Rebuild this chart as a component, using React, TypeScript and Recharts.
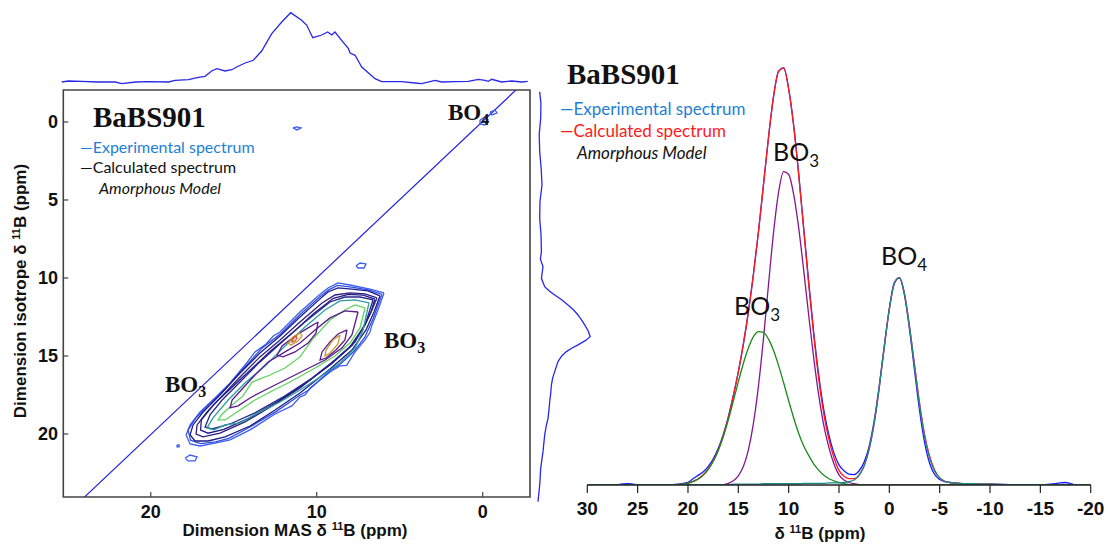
import React from 'react';
import { LineChart, Line, XAxis, YAxis, ReferenceArea } from 'recharts';

const W = 1110;
const H = 547;

const FONT_SANS = "Lato, 'Open Sans', sans-serif";
const FONT_SERIF = "'Liberation Serif', 'Times New Roman', serif";
const FONT_ARIAL = "'Liberation Sans', Arial, sans-serif";

// ---- left: 2D MQMAS map, points are [MAS ppm, isotropic ppm]
const diagonal: [number, number][] = [[24.0, 24.05], [-2.0, -2.05]];

const contourOuter: [number, number][] = [
  [5.95, 10.96], [6.79, 10.71], [8.0, 10.45], [8.72, 10.32], [9.32, 10.64], [9.92, 11.15], [11.01, 12.18],
  [12.21, 13.46], [12.6, 13.7], [13.11, 14.29], [13.72, 14.74], [14.32, 15.58], [15.22, 16.73], [16.13, 17.69],
  [17.03, 18.59], [17.63, 19.42], [17.87, 20.06], [17.63, 20.64], [17.03, 20.77], [16.13, 20.58], [15.22, 20.38],
  [14.02, 19.74], [12.51, 18.72], [11.5, 18.2], [11.01, 17.63], [10.7, 17.5], [10.4, 17.05], [9.2, 16.03],
  [8.6, 15.64], [8.2, 15.6], [7.69, 14.74], [7.09, 13.97], [6.8, 13.5], [6.67, 13.01], [6.31, 12.05], [5.95, 10.96],
];
const contourOuter2: [number, number][] = [
  [6.07, 11.05], [6.9, 10.76], [7.9, 10.58], [8.76, 10.48], [9.3, 10.78], [9.86, 11.25], [11.0, 12.34],
  [12.2, 13.6], [13.3, 14.5], [14.4, 15.8], [15.5, 17.1], [16.5, 18.1], [17.3, 19.0], [17.75, 19.75],
  [17.6, 20.4], [17.0, 20.62], [16.1, 20.5], [15.3, 20.28], [14.1, 19.6], [12.5, 18.6], [11.0, 17.5],
  [10.5, 17.2], [9.2, 15.95], [8.5, 15.45], [7.75, 14.7], [7.1, 13.8], [6.6, 12.6], [6.07, 11.05],
];
const contourNavy: [number, number][] = [
  [6.19, 11.15], [6.91, 10.83], [7.88, 10.71], [8.72, 10.64], [9.32, 10.9], [9.8, 11.34], [11.01, 12.5],
  [12.21, 13.72], [13.42, 14.81], [14.62, 16.09], [15.83, 17.5], [16.85, 18.59], [17.45, 19.42], [17.63, 20.06],
  [17.33, 20.45], [16.55, 20.45], [15.52, 20.19], [14.02, 19.49], [12.51, 18.46], [11.01, 17.37], [9.2, 15.83],
  [7.88, 14.62], [7.03, 13.33], [6.55, 12.18], [6.19, 11.15],
];
const contourIndigo: [number, number][] = [
  [6.37, 11.28], [7.09, 11.02], [8.0, 10.96], [8.9, 11.09], [9.68, 11.6], [11.01, 12.82], [12.21, 13.97],
  [13.42, 15.06], [14.62, 16.35], [15.7, 17.56], [16.61, 18.59], [17.21, 19.42], [17.27, 20.0], [16.85, 20.19],
  [15.83, 19.94], [14.32, 19.23], [12.69, 18.2], [11.01, 17.05], [9.32, 15.64], [8.0, 14.42], [7.21, 13.2],
  [6.73, 12.18], [6.37, 11.28],
];
const contourNavy2: [number, number][] = [
  [6.5, 11.35], [7.2, 11.1], [8.1, 11.05], [9.0, 11.3], [10.2, 12.3], [11.5, 13.55], [12.8, 14.7],
  [14.0, 15.9], [15.2, 17.1], [16.2, 18.1], [16.95, 19.1], [17.0, 19.75], [16.55, 19.95], [15.6, 19.7],
  [14.1, 19.0], [12.4, 17.95], [10.8, 16.85], [9.1, 15.5], [7.85, 14.3], [7.1, 13.05], [6.7, 12.1], [6.5, 11.35],
];
const contourBlue: [number, number][] = [
  [6.61, 11.41], [7.39, 11.22], [8.3, 11.22], [9.2, 11.54], [10.71, 12.82], [12.09, 14.1], [13.42, 15.38],
  [14.62, 16.67], [15.7, 17.82], [16.43, 18.78], [16.73, 19.55], [16.31, 19.68], [15.22, 19.36], [13.72, 18.65],
  [11.91, 17.56], [10.28, 16.41], [8.9, 15.26], [7.69, 14.1], [7.03, 12.82], [6.61, 11.41],
];
const contourTeal: [number, number][] = [
  [6.85, 11.6], [7.69, 11.41], [8.6, 11.47], [9.5, 12.05], [10.71, 13.14], [11.91, 14.36], [13.11, 15.64],
  [14.32, 16.73], [15.34, 17.82], [16.25, 18.97], [16.61, 19.61], [16.19, 19.74], [15.52, 19.42], [14.62, 19.29],
  [13.54, 18.65], [12.21, 17.95], [11.01, 17.18], [9.8, 16.35], [8.6, 15.45], [7.69, 14.49], [7.21, 13.33], [6.85, 11.6],
];
const contourGreen: [number, number][] = [
  [7.09, 11.92], [7.69, 11.73], [8.3, 12.05], [9.2, 12.69], [10.28, 13.97], [11.01, 15.06], [11.91, 15.77],
  [12.81, 16.22], [13.9, 16.67], [14.44, 17.56], [15.1, 18.14], [15.7, 18.72], [15.95, 19.1], [15.52, 19.1],
  [14.62, 18.46], [13.72, 17.82], [12.81, 17.31], [11.61, 16.67], [10.1, 15.77], [8.9, 15.0], [8.0, 14.17],
  [7.39, 13.2], [7.09, 11.92],
];
const contourPurple: [number, number][] = [
  [7.51, 12.18], [8.3, 12.11], [9.2, 12.56], [10.1, 13.33], [11.01, 14.17], [11.91, 14.74], [12.93, 15.38],
  [13.72, 16.22], [14.44, 17.05], [15.1, 17.82], [15.22, 18.33], [14.74, 18.2], [14.02, 17.69], [13.11, 17.18],
  [11.91, 16.54], [10.71, 15.9], [9.5, 15.26], [8.48, 14.49], [7.88, 13.65], [7.51, 12.18],
];
const lobeLeft: [number, number][] = [
  [9.92, 12.82], [10.52, 13.2], [11.31, 13.72], [12.09, 14.36], [12.39, 14.94], [12.03, 15.06], [11.31, 14.74],
  [10.52, 14.17], [10.04, 13.52], [9.92, 12.82],
];
const lobeRight: [number, number][] = [
  [8.18, 13.33], [8.72, 13.59], [9.2, 14.1], [9.68, 14.74], [9.8, 15.26], [9.44, 15.13], [8.84, 14.62],
  [8.3, 13.97], [8.18, 13.33],
];
const coreRight: [number, number][] = [
  [8.6, 13.65], [9.02, 13.97], [9.44, 14.62], [9.5, 15.0], [9.2, 14.81], [8.72, 14.23], [8.6, 13.65],
];
const coreLeft: [number, number][] = [
  [11.01, 13.52], [11.43, 13.78], [11.73, 14.17], [11.55, 14.29], [11.13, 14.04], [10.89, 13.72], [11.01, 13.52],
];
const corePeak: [number, number][] = [
  [11.25, 13.72], [11.43, 13.91], [11.49, 14.1], [11.31, 14.04], [11.19, 13.85], [11.25, 13.72],
];
const islandTop: [number, number][] = [[11.43, 0.38], [11.19, 0.32], [10.95, 0.38], [11.19, 0.51], [11.43, 0.38]];
const islandMid: [number, number][] = [[7.63, 9.22], [7.39, 9.04], [7.03, 9.1], [7.15, 9.36], [7.51, 9.36], [7.63, 9.22]];
const islandBo4a: [number, number][] = [[0.16, -0.13], [-0.14, -0.32], [-0.32, -0.13], [-0.14, 0.19], [0.16, 0.13], [0.16, -0.13]];
const islandBo4b: [number, number][] = [[-0.44, -0.64], [-0.74, -0.77], [-0.86, -0.58], [-0.56, -0.45], [-0.44, -0.64]];
const islandLow: [number, number][] = [[17.93, 21.54], [17.63, 21.35], [17.21, 21.47], [17.33, 21.73], [17.75, 21.73], [17.93, 21.54]];
const islandDot: [number, number][] = [[18.42, 20.7], [18.29, 20.7], [18.29, 20.83], [18.42, 20.83], [18.42, 20.7]];

const contours = [
  contourOuter, contourOuter2, contourNavy, contourIndigo, contourNavy2, contourBlue, contourTeal, contourGreen,
  contourPurple, lobeLeft, lobeRight, coreRight, coreLeft, corePeak,
  islandTop, islandMid, islandBo4a, islandBo4b, islandLow, islandDot,
];
const contourColors = [
  '#3d5cf5', '#2f4fe0', '#1c1c8a', '#2c1f7d', '#221a86', '#26268f', '#2b9e9e', '#5fd35f',
  '#5b1a8c', '#5b1a8c', '#5b1a8c', '#c89a30', '#c89a30', '#e0502a',
  '#3d5cf5', '#3d5cf5', '#3d5cf5', '#3d5cf5', '#3d5cf5', '#3d5cf5',
];

// ---- projections
const topShift = [
  25.36, 24.96, 24.16, 23.2, 22.15, 21.75, 20.9, 20.14, 18.94, 18.54, 17.73, 17.13, 16.73, 16.33, 16.03, 15.52,
  15.12, 14.82, 14.32, 13.82, 13.32, 12.71, 12.11, 11.57, 10.91, 10.6, 10.24, 9.7, 9.34, 9.1, 8.9, 8.5, 8.09,
  7.99, 7.69, 7.29, 6.49, 6.09, 4.88, 4.08, 3.68, 2.87, 2.47, 1.67, 0.87, 0.26, -0.14, -0.34, -0.54, -1.14,
  -1.75, -2.35, -2.71,
];
const topIntensity = [
  0, 1.0, 0.7, 0, 0, -1.7, 0, 0.3, 0, 1.7, 2.3, 4.7, 5.7, 11, 13.3, 11,
  12.3, 15, 19, 21.7, 31, 48.3, 60, 69.3, 61.7, 56.7, 44.3, 47, 50, 47, 50, 41.7, 33.3,
  29, 26.7, 15, 3.3, 0.3, 0.3, -1, -1.7, 1.7, 0, 0.3, 0.7, 2.7, 1.7, 0.7, 2.7, 0,
  1, 0, 0.7,
];
const sideShift = [
  -1.94, -1.2, -0.24, 0.8, 1.9, 3.0, 4.04, 5.1, 6.18, 7.2, 8.31, 8.8, 9.27, 10.02, 10.56, 10.8, 11.09, 11.4,
  11.73, 12.05, 12.37, 12.7, 13.01, 13.4, 13.76, 14.0, 14.29, 14.5, 14.72, 15.0, 15.36, 16.0, 16.4, 16.86,
  17.4, 17.93, 18.5, 19.0, 19.5, 20.06, 21.13, 22.2, 23.27, 24.34,
];
const sideIntensity = [
  0, 1.2, 1, -0.5, 0, 1.5, 2.3, 0.3, 0, 1.3, 1.7, 0.7, 3.3, 1.7, 5, 9, 15, 22,
  28.3, 34, 38.3, 42, 45, 48.5, 50.5, 46, 38.3, 32, 26.7, 22, 18.3, 15, 13, 11.7,
  11, 10, 9.2, 8.3, 6.5, 5, 3.3, 1, 0, -1.7,
];

// ---- right: 1D MAS spectrum and its fit components
const spectrumPpm = [
  30, 28, 26, 24, 22, 21, 20, 19.5, 19, 18.5, 18, 17.5, 17, 16.5, 16, 15.5, 15, 14.5, 14, 13.5, 13,
  12.5, 12, 11.5, 11, 10.5, 10, 9.5, 9, 8.5, 8, 7.5, 7, 6.5, 6, 5.5, 5, 4.5, 4, 3.5, 3, 2.5, 2, 1.5, 1, 0.5,
  0, -0.5, -1, -1.5, -2, -2.5, -3, -3.5, -4, -4.5, -5, -5.5, -6, -7, -8, -10, -12, -14, -16, -17, -17.5,
  -18, -19, -19.5, -20,
];
const expSpectrum = [
  0.1, -0.2, 0.3, -0.3, 0, 0.2, 0.6, 1.5, 2.3, 3.1, 4.4, 6.2, 8.7, 12.0, 16.2, 21.3, 27.0, 33.6, 41.3, 50.3, 60.4,
  71.7, 83.0, 92.8, 98.8, 99.6, 94.6, 85.8, 74.2, 61.2, 48.3, 36.2, 26.0, 17.8, 11.9, 7.6, 4.8, 3.4, 2.6, 2.5, 3.4, 5.5, 9.3, 15.4, 23.7, 33.2,
  42.1, 48.3, 49.4, 45.4, 37.2, 27.4, 17.8, 10.2, 5.2, 2.5, 1.3, 0.8, 0.6, 0.4, 0.2, 0.2, 0.1, -0.1, 0.2, 0.5, 0.6,
  0.3, -0.3, -0.7, -0.1,
];
const calcSpectrum = [
  0, 0, 0, 0, 0, 0.1, 0.4, 0.9, 1.5, 2.4, 3.8, 5.7, 8.3, 11.7, 16.0, 21.2, 27.0, 33.6, 41.3, 50.3, 60.4,
  71.7, 83.0, 92.7, 98.7, 99.5, 94.5, 85.6, 73.9, 60.8, 47.7, 35.5, 25.1, 16.8, 10.9, 6.5, 3.5, 2.1, 1.5, 1.5, 2.4, 4.6, 8.6, 14.8, 23.3, 33.0,
  42.0, 48.1, 49.5, 45.7, 37.9, 28.8, 19.6, 12.1, 6.9, 3.6, 1.7, 0.9, 0.6, 0.4, 0.3, 0.2, 0.1, 0.1, 0.1, 0, 0,
  0, 0, 0, 0,
];
const bo3Narrow = [
  0, 0, 0, 0, 0, 0, 0, 0, 0, 0, 0, 0, 0, 0.1, 0.4, 1.0, 2.2, 4.4, 8.4, 14.7, 23.6,
  35.0, 47.9, 60.3, 69.9, 74.8, 74.1, 69.3, 61.3, 51.1, 40.3, 30.1, 21.2, 14.1, 8.9, 5.0, 2.4, 1.2, 0.6, 0.3, 0.1, 0, 0, 0, 0, 0,
  0, 0, 0, 0, 0, 0, 0, 0, 0, 0, 0, 0, 0, 0, 0, 0, 0, 0, 0, 0, 0,
  0, 0, 0, 0,
];
const bo3Wide = [
  0, 0, 0, 0, 0, 0.1, 0.4, 0.8, 1.4, 2.3, 3.7, 5.6, 8.2, 11.5, 15.5, 20.0, 24.6, 29.0, 32.7, 35.4, 36.6,
  36.4, 34.8, 32.1, 28.5, 24.4, 20.1, 16.0, 12.3, 9.3, 7.0, 5.0, 3.5, 2.3, 1.5, 1.0, 0.6, 0.3, 0.1, 0, 0, 0, 0, 0, 0, 0,
  0, 0, 0, 0, 0, 0, 0, 0, 0, 0, 0, 0, 0, 0, 0, 0, 0, 0, 0, 0, 0,
  0, 0, 0, 0,
];
const bo4Fit = [
  0, 0, 0, 0, 0, 0, 0, 0.1, 0.1, 0.1, 0.1, 0.1, 0.1, 0.1, 0.1, 0.2, 0.2, 0.2, 0.2, 0.2, 0.2,
  0.3, 0.3, 0.3, 0.3, 0.3, 0.3, 0.3, 0.3, 0.4, 0.4, 0.4, 0.4, 0.4, 0.5, 0.5, 0.5, 0.6, 0.8, 1.2, 2.3, 4.6, 8.6, 14.8, 23.3, 33.0,
  42.0, 48.1, 49.5, 45.7, 37.9, 28.3, 19.0, 11.5, 6.4, 3.3, 1.7, 0.9, 0.6, 0.4, 0.3, 0.2, 0.1, 0.1, 0.1, 0, 0,
  0, 0, 0, 0,
];
const spectrumTicks = [30, 25, 20, 15, 10, 5, 0, -5, -10, -15, -20];

const spectrumRows = spectrumPpm.map((ppm, k) => ({
  ppm,
  exp: expSpectrum[k],
  calc: calcSpectrum[k],
  narrow: bo3Narrow[k],
  wide: bo3Wide[k],
  bo4: bo4Fit[k],
}));
const topRows = topShift.map((m, k) => ({ m, v: topIntensity[k] }));
const sideRows = sideShift.map((i, k) => ({ i, v: sideIntensity[k] }));
const toPts = (arr: [number, number][]) => arr.map(([m, i]) => ({ m, i }));

const layer: React.CSSProperties = { position: 'absolute', left: 0, top: 0 };
const tickFont = { fill: '#111', fontWeight: 'bold', fontFamily: FONT_ARIAL };

const Sub = ({ children, size, dy }: { children: string; size: number; dy: number }) => (
  <tspan fontSize={size} dy={dy}>{children}</tspan>
);

export default function App() {
  return (
    <div style={{ position: 'absolute', left: 0, top: 0, width: W, height: H, background: '#fff' }}>
      {/* top projection */}
      <div style={layer}>
        <LineChart width={W} height={H} margin={{ top: 10, left: 55, right: 575, bottom: 462 }}>
          <XAxis type="number" dataKey="m" domain={[-3.15, 25.77]} reversed hide allowDataOverflow />
          <YAxis type="number" domain={[-3, 72]} hide allowDataOverflow />
          <Line data={topRows} dataKey="v" type="linear" stroke="#2828e6" strokeWidth={1.3} dot={false} activeDot={false} isAnimationActive={false} />
        </LineChart>
      </div>

      {/* side projection */}
      <div style={layer}>
        <LineChart width={W} height={H} margin={{ top: 85, left: 530, right: 510, bottom: 42 }}>
          <XAxis type="number" dataKey="v" domain={[-9.7, 60.3]} hide allowDataOverflow />
          <YAxis type="number" domain={[-2.37, 24.55]} reversed hide allowDataOverflow />
          <Line data={sideRows} dataKey="i" type="linear" stroke="#2828e6" strokeWidth={1.3} dot={false} activeDot={false} isAnimationActive={false} />
        </LineChart>
      </div>

      {/* 2D map */}
      <div style={layer}>
        <LineChart width={W} height={H} margin={{ top: 90, left: 23.3, right: 580, bottom: 20 }}>
          <XAxis
            type="number"
            dataKey="m"
            domain={[-2.85, 25.27]}
            reversed
            allowDataOverflow
            ticks={[0, 10, 20]}
            interval={0}
            height={30}
            axisLine={false}
            tickSize={-5}
            tickMargin={13.5}
            tickLine={{ stroke: '#444', strokeWidth: 1.2 }}
            tick={{ ...tickFont, fontSize: 18 }}
          />
          <YAxis
            type="number"
            domain={[-2.05, 24.04]}
            reversed
            allowDataOverflow
            ticks={[0, 5, 10, 15, 20]}
            interval={0}
            width={40}
            axisLine={false}
            tickSize={-5}
            tickMargin={10.3}
            tickLine={{ stroke: '#444', strokeWidth: 1.2 }}
            tick={{ ...tickFont, fontSize: 18 }}
          />
          <ReferenceArea x1={-2.85} x2={25.27} y1={-2.05} y2={24.04} fill="none" stroke="#444" strokeWidth={1.6} ifOverflow="visible" />
          <Line data={toPts(diagonal)} dataKey="i" type="linear" stroke="#2222e0" strokeWidth={1.2} dot={false} activeDot={false} isAnimationActive={false} />
          {contours.map((c, k) => (
            <Line
              key={k}
              data={toPts(c)}
              dataKey="i"
              type="linear"
              stroke={contourColors[k]}
              strokeWidth={1.3}
              dot={false}
              activeDot={false}
              isAnimationActive={false}
            />
          ))}
        </LineChart>
      </div>

      {/* 1D spectrum */}
      <div style={layer}>
        <LineChart width={W} height={H} data={spectrumRows} margin={{ top: 66, left: 587.3, right: 19.3, bottom: 32 }}>
          <XAxis
            type="number"
            dataKey="ppm"
            domain={[-20, 30]}
            reversed
            ticks={spectrumTicks}
            interval={0}
            height={30}
            tickSize={8}
            tickMargin={8.7}
            axisLine={{ stroke: '#222', strokeWidth: 1.5 }}
            tickLine={{ stroke: '#222', strokeWidth: 1.2 }}
            tick={{ ...tickFont, fontSize: 19 }}
          />
          <YAxis type="number" domain={[0, 100]} hide allowDataOverflow />
          <Line dataKey="exp" type="monotone" stroke="#1a1aff" strokeWidth={1.3} dot={false} activeDot={false} isAnimationActive={false} />
          <Line dataKey="calc" type="monotone" stroke="#ff1a1a" strokeWidth={1.3} dot={false} activeDot={false} isAnimationActive={false} />
          <Line dataKey="narrow" type="monotone" stroke="#85168f" strokeWidth={1.3} dot={false} activeDot={false} isAnimationActive={false} />
          <Line dataKey="wide" type="monotone" stroke="#1a8a1a" strokeWidth={1.3} dot={false} activeDot={false} isAnimationActive={false} />
          <Line dataKey="bo4" type="monotone" stroke="#1b8a8a" strokeWidth={1.3} dot={false} activeDot={false} isAnimationActive={false} />
        </LineChart>
      </div>

      {/* labels */}
      <svg width={W} height={H} style={{ ...layer, pointerEvents: 'none' }}>
        {/* left panel */}
        <text x={93} y={127} fontFamily={FONT_SERIF} fontWeight="bold" fontSize={29} fill="#111">BaBS901</text>
        <text x={80} y={153} fontFamily={FONT_SANS} fontSize={16} fill="#1f7fd5">—Experimental spectrum</text>
        <text x={80} y={173} fontFamily={FONT_SANS} fontSize={16} fill="#111">—Calculated spectrum</text>
        <text x={99} y={194} fontFamily={FONT_SANS} fontSize={16} fontStyle="italic" fill="#111">Amorphous Model</text>
        <text x={448} y={120} fontFamily={FONT_SERIF} fontWeight="bold" fontSize={23} fill="#111">
          BO<Sub size={16} dy={5}>4</Sub>
        </text>
        <text x={384} y={348} fontFamily={FONT_SERIF} fontWeight="bold" fontSize={23} fill="#111">
          BO<Sub size={16} dy={5}>3</Sub>
        </text>
        <text x={165} y={392} fontFamily={FONT_SERIF} fontWeight="bold" fontSize={23} fill="#111">
          BO<Sub size={16} dy={5}>3</Sub>
        </text>
        <text x={295} y={536} textAnchor="middle" fontFamily={FONT_ARIAL} fontWeight="bold" fontSize={17} fill="#111">
          Dimension MAS δ <tspan fontSize={11} dy={-6}>11</tspan><tspan dy={6}>B (ppm)</tspan>
        </text>
        <text
          x={0}
          y={0}
          transform="translate(26 291) rotate(-90)"
          textAnchor="middle"
          fontFamily={FONT_ARIAL}
          fontWeight="bold"
          fontSize={17}
          fill="#111"
        >
          Dimension isotrope δ <tspan fontSize={11} dy={-6}>11</tspan><tspan dy={6}>B (ppm)</tspan>
        </text>

        {/* right panel */}
        <text x={567} y={84} fontFamily={FONT_SERIF} fontWeight="bold" fontSize={29} fill="#111">BaBS901</text>
        <text x={560} y={115} fontFamily={FONT_SANS} fontSize={17} fill="#1f7fd5">—Experimental spectrum</text>
        <text x={560} y={137} fontFamily={FONT_SANS} fontSize={17} fill="#ff1a1a">—Calculated spectrum</text>
        <text x={577} y={159} fontFamily={FONT_SANS} fontSize={17} fontStyle="italic" fill="#111">Amorphous Model</text>
        <text x={773} y={161} fontFamily={FONT_SANS} fontSize={25} fill="#111">
          BO<Sub size={17} dy={6}>3</Sub>
        </text>
        <text x={734} y={315} fontFamily={FONT_SANS} fontSize={25} fill="#111">
          BO<Sub size={17} dy={6}>3</Sub>
        </text>
        <text x={881} y={265} fontFamily={FONT_SANS} fontSize={25} fill="#111">
          BO<Sub size={17} dy={6}>4</Sub>
        </text>
        <text x={820} y={539} textAnchor="middle" fontFamily={FONT_ARIAL} fontWeight="bold" fontSize={17} fill="#111">
          δ <tspan fontSize={11} dy={-6}>11</tspan><tspan dy={6}>B (ppm)</tspan>
        </text>
      </svg>
    </div>
  );
}
